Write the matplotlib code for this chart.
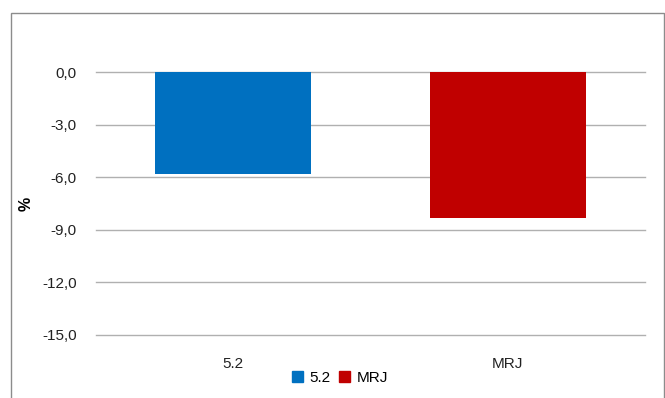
import matplotlib
matplotlib.use("Agg")
import matplotlib.pyplot as plt
from matplotlib.ticker import FuncFormatter, MultipleLocator
from matplotlib.patches import Rectangle, Patch

categories = ["5.2", "MRJ"]
values = [-5.8, -8.3]
colors = ["#0070C0", "#C00000"]

plt.rcParams['font.family'] = ['Liberation Sans', 'DejaVu Sans']

fig = plt.figure(figsize=(6.65, 3.98), dpi=100)
W, H = 665, 398
ax = fig.add_axes([96 / W, (H - 335) / H, (645 - 96) / W, (335 - 72) / H])

x = range(len(categories))
ax.bar(x, values, width=0.57, color=colors, zorder=3)
ax.set_xlim(-0.5, len(categories) - 0.5)
ax.set_ylim(-15, 0)
ax.yaxis.set_major_locator(MultipleLocator(3))
ax.yaxis.set_major_formatter(FuncFormatter(lambda v, p: f"{v:.1f}".replace(".", ",")))
ax.grid(axis="y", color="#B0B0B0", linewidth=1, zorder=0)
for gl in ax.get_ygridlines():
    gl.set_clip_on(False)
ax.set_axisbelow(True)
ax.set_xticks(list(x))
ax.set_xticklabels(categories)
for s in ax.spines.values():
    s.set_visible(False)
ax.tick_params(axis="both", length=0, labelsize=11, colors="#222222")
ax.tick_params(axis="y", pad=14)
ax.tick_params(axis="x", pad=16)
ax.set_ylabel("%", fontsize=11.5, fontweight="bold")
ax.yaxis.set_label_coords((34 - 96) / 549, 0.5)

handles = [Patch(color=c, label=l) for c, l in zip(colors, categories)]
fig.legend(handles=handles, loc="center", bbox_to_anchor=(340 / W, 1 - 378 / H),
           ncol=2, frameon=False, fontsize=11, handlelength=0.7, handleheight=0.7,
           handletextpad=0.4, columnspacing=0.6)

fig.patches.append(Rectangle((11 / W, -0.01), (664 - 11) / W, 1 - 13 / H + 0.01,
                             transform=fig.transFigure, fill=False,
                             edgecolor="#8C8C8C", linewidth=1))

fig.savefig("out.png", dpi=100)
